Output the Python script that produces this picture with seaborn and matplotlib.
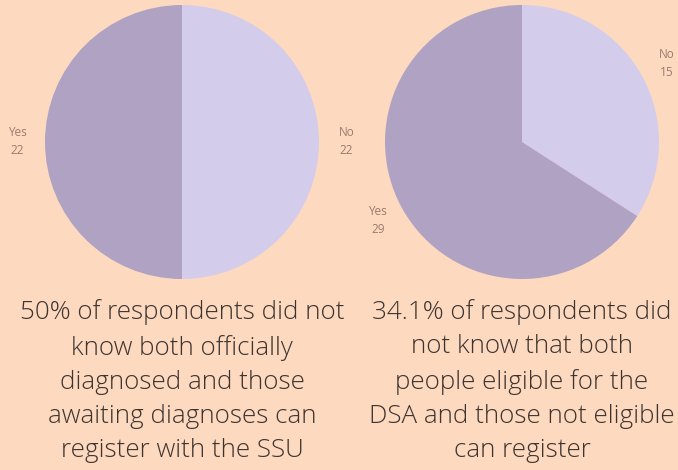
import matplotlib
matplotlib.use("Agg")
import matplotlib.pyplot as plt
import seaborn as sns

# Survey answers for the two questions
answers_ssu = ["No", "Yes"]
counts_ssu = [22, 22]
caption_ssu = ("50% of respondents did not\nknow both officially\n"
               "diagnosed and those\nawaiting diagnoses can\nregister with the SSU")

answers_dsa = ["No", "Yes"]
counts_dsa = [15, 29]
caption_dsa = ("34.1% of respondents did\nnot know that both\n"
               "people eligible for the\nDSA and those not eligible\ncan register")

BG = "#FDD9BF"
sns.set_theme(style="white", rc={"figure.facecolor": BG, "axes.facecolor": BG})
plt.rcParams["font.family"] = ["Open Sans", "DejaVu Sans"]

palette = sns.color_palette(["#D4CCEB", "#AFA2C3"])

fig = plt.figure(figsize=(6.78, 4.70), dpi=100)
W, H = 678, 470


def draw_pie(cx, cy, r, labels, values, caption):
    ax = fig.add_axes([(cx - r) / W, 1 - (cy + r) / H, 2 * r / W, 2 * r / H])
    ax.set_facecolor(BG)
    text_labels = [f"{lab}\n{val}" for lab, val in zip(labels, values)]
    wedges, texts = ax.pie(values, labels=text_labels, colors=palette,
                           startangle=90, counterclock=False,
                           labeldistance=1.2,
                           wedgeprops=dict(linewidth=0),
                           textprops=dict(fontsize=8.5, color="#9A7B6C",
                                          ha="center", va="center",
                                          linespacing=1.5))
    ax.set_xlim(-1, 1)
    ax.set_ylim(-1, 1)
    ax.set_aspect("equal")
    ax.axis("off")
    fig.text(cx / W, 1 - 299 / H, caption, ha="center", va="top",
             fontsize=18.7, color="#3D3430", fontweight="light",
             linespacing=1.48)


draw_pie(182, 142, 137, answers_ssu, counts_ssu, caption_ssu)
draw_pie(522, 142, 137, answers_dsa, counts_dsa, caption_dsa)

fig.savefig("out.png", dpi=100, facecolor=BG)
